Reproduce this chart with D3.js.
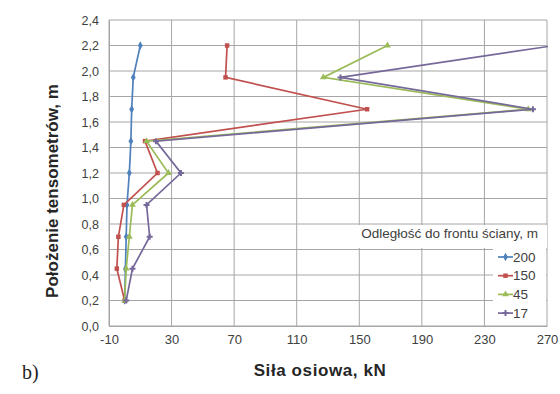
<!DOCTYPE html>
<html>
<head>
<meta charset="utf-8">
<script src="https://cdn.jsdelivr.net/npm/d3@7"></script>
<style>
  body { margin: 0; background: #fff; }
</style>
</head>
<body>
<div id="chart"></div>
<script>
// ========== data ==========
const positions = [2.2, 1.95, 1.7, 1.45, 1.2, 0.95, 0.7, 0.45, 0.2];
const s200 = [10, 5.5, 4.5, 4, 3, 1.5, 1, 0.5, 0];
const s150 = [65.5, 64.5, 155, 13, 21, -0.5, -4, -5, 0];
const s45  = [168, 127, 258, 14, 28, 5, 3, 1, 0];
const s17  = [275, 138, 261, 20, 36, 14, 16, 5, 1];
const seriesNames = ["200", "150", "45", "17"];
const xTicks = [-10, 30, 70, 110, 150, 190, 230, 270];
const yTicks = [0, 0.2, 0.4, 0.6, 0.8, 1.0, 1.2, 1.4, 1.6, 1.8, 2.0, 2.2, 2.4];

// ========== chart setup ==========
var svgWidth = 560, svgHeight = 394;
var margin = {top: 20, right: 13, bottom: 68, left: 109};
var width = svgWidth - margin.left - margin.right;
var height = svgHeight - margin.top - margin.bottom;
var sans = "Liberation Sans, Arial, sans-serif";

var svg = d3.select("#chart").append("svg").attr("width", svgWidth).attr("height", svgHeight);
var chartGroup = svg.append("g").attr("transform", `translate(${margin.left}, ${margin.top})`);

const xScale = d3.scaleLinear().domain([-10, 270]).range([0, width]);
const yScale = d3.scaleLinear().domain([0, 2.4]).range([height, 0]);

const series = [
  {name: seriesNames[0], values: s200, color: "#4f81bd", marker: d3.symbolDiamond},
  {name: seriesNames[1], values: s150, color: "#c0504d", marker: d3.symbolSquare},
  {name: seriesNames[2], values: s45,  color: "#9bbb59", marker: d3.symbolTriangle},
  {name: seriesNames[3], values: s17,  color: "#76699a", marker: d3.symbolCross}
];

// ========== grid ==========
chartGroup.append("g").selectAll("line").data(xTicks).enter().append("line")
  .attr("x1", d => xScale(d)).attr("x2", d => xScale(d))
  .attr("y1", 0).attr("y2", height)
  .attr("stroke", "#a6a6a6").attr("stroke-width", 1);
chartGroup.append("g").selectAll("line").data(yTicks).enter().append("line")
  .attr("x1", 0).attr("x2", width)
  .attr("y1", d => yScale(d)).attr("y2", d => yScale(d))
  .attr("stroke", "#a6a6a6").attr("stroke-width", 1);

// ========== axes ==========
const fmt = d => d3.format(".1f")(d).replace(".", ",");
const xAxis = d3.axisBottom(xScale).tickValues(xTicks).tickFormat(d => String(d)).tickSize(0).tickPadding(9);
const yAxis = d3.axisLeft(yScale).tickValues(yTicks).tickFormat(fmt).tickSize(0).tickPadding(10);

chartGroup.append("g").attr("transform", `translate(0, ${height})`).call(xAxis)
  .call(g => g.select(".domain").attr("stroke", "#a6a6a6"))
  .selectAll("text").style("font-size", "13px").attr("fill", "#404040")
  .style("font-family", sans);
chartGroup.append("g").call(yAxis)
  .call(g => g.select(".domain").attr("stroke", "#a6a6a6"))
  .selectAll("text").style("font-size", "12.5px").attr("fill", "#404040")
  .style("font-family", sans);

// ========== lines ==========
svg.append("clipPath").attr("id", "plotClip").append("rect")
  .attr("width", width + 1).attr("height", height);

const line = d3.line().x(d => xScale(d[0])).y(d => yScale(d[1]));
const plot = chartGroup.append("g").attr("clip-path", "url(#plotClip)");

series.forEach(s => {
  const pts = s.values.map((v, i) => [v, positions[i]]);
  plot.append("path").datum(pts)
    .attr("d", line).attr("fill", "none")
    .attr("stroke", s.color).attr("stroke-width", 1.7);
  plot.selectAll(null).data(pts).enter().append("path")
    .attr("d", d3.symbol().type(s.marker).size(20))
    .attr("transform", d => `translate(${xScale(d[0])},${yScale(d[1])})`)
    .attr("fill", s.color);
});

// ========== legend ==========
chartGroup.append("rect").attr("x", 229).attr("y", 205).attr("width", width - 229).attr("height", 23).attr("fill", "#fff");
chartGroup.append("rect").attr("x", 384).attr("y", 228).attr("width", width - 385).attr("height", 75).attr("fill", "#fff");
chartGroup.append("text").attr("x", 429).attr("y", 213)
  .attr("text-anchor", "end").style("font-size", "13.5px").style("font-family", sans).attr("fill", "#404040")
  .attr("dominant-baseline", "central")
  .text("Odległość do frontu ściany, m");

const legend = chartGroup.append("g").selectAll("g").data(series).enter().append("g")
  .attr("transform", (d, i) => `translate(389, ${237 + i * 18.7})`);
legend.append("line").attr("x1", 0).attr("x2", 15).attr("y1", 0).attr("y2", 0)
  .attr("stroke", d => d.color).attr("stroke-width", 1.7);
legend.append("path").attr("d", d => d3.symbol().type(d.marker).size(20)())
  .attr("transform", "translate(7.5,0)").attr("fill", d => d.color);
legend.append("text").attr("x", 15).attr("y", 0).attr("dominant-baseline", "central")
  .style("font-size", "13.5px").style("font-family", sans).attr("fill", "#404040").text(d => d.name);

// ========== axis titles ==========
chartGroup.append("text")
  .attr("transform", `translate(${width / 2 - 8}, ${height + 50})`)
  .attr("text-anchor", "middle").style("font-size", "17px").style("font-family", sans)
  .style("letter-spacing", "0.6px").attr("fill", "#262626")
  .style("font-weight", "bold").text("Siła osiowa, kN");

chartGroup.append("text")
  .attr("transform", `translate(${-51}, ${height / 2 + 18}) rotate(-90)`)
  .attr("text-anchor", "middle").style("font-size", "17px").style("font-family", sans)
  .attr("fill", "#262626")
  .style("font-weight", "bold").text("Położenie tensometrów, m");

svg.append("text").attr("x", 22).attr("y", 379)
  .style("font-family", "Liberation Serif, Times New Roman, serif")
  .style("font-size", "20px").attr("fill", "#222").text("b)");
</script>
</body>
</html>
